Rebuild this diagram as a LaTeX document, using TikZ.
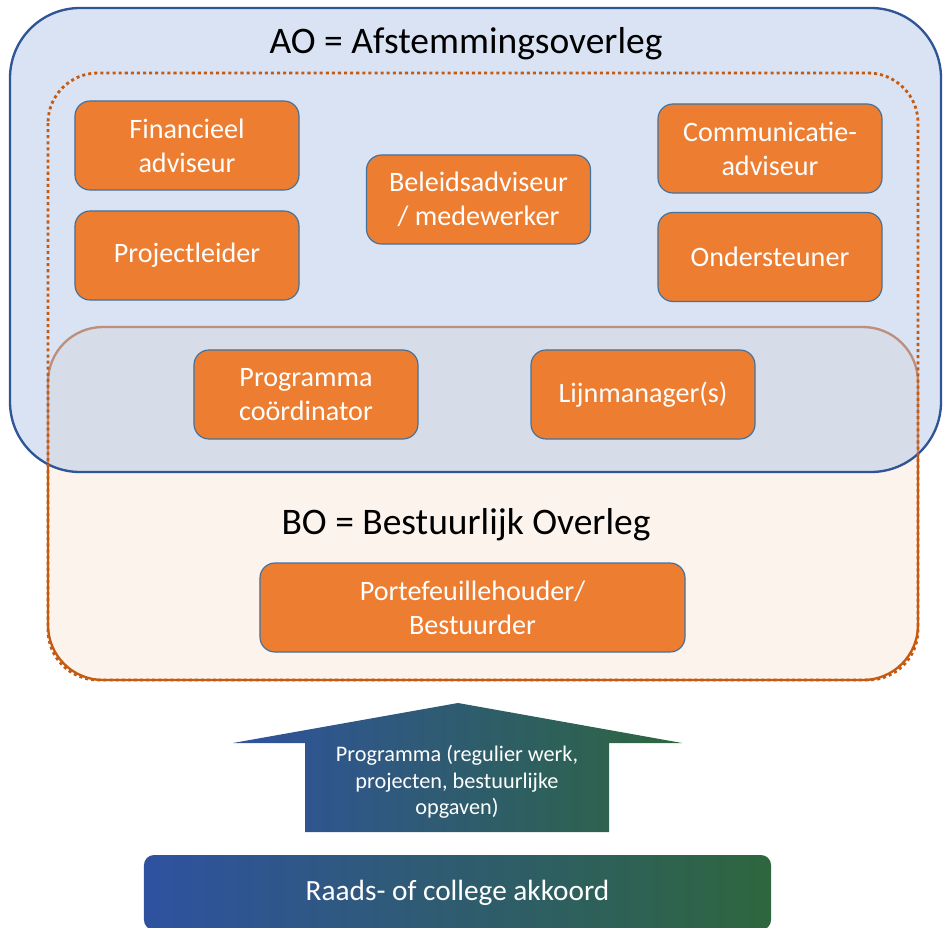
\documentclass[tikz,border=0pt]{standalone}
\usepackage{fontspec}
\setmainfont{Carlito}
\usepackage{tikz}
\definecolor{aoblue}{RGB}{47,85,151}
\definecolor{aofill}{RGB}{180,199,231}
\definecolor{boorange}{RGB}{197,90,17}
\definecolor{bofill}{RGB}{252,243,237}
\definecolor{boxorange}{RGB}{237,125,49}
\definecolor{boxblue}{RGB}{65,113,156}
\definecolor{gradblue}{RGB}{47,82,160}
\definecolor{gradgreen}{RGB}{46,102,62}

\begin{document}
\begin{tikzpicture}[x=0.03cm,y=-0.03cm]
  \tikzset{role box/.style = {draw=boxblue, line width=1pt, fill=boxorange, rounded corners=0.45cm,
      minimum width=6.72cm, minimum height=2.67cm, align=center, text=white,
      font=\fontsize{24}{29}\selectfont}}
  \tikzset{title text/.style = {font=\fontsize{32}{38}\selectfont}}
  \useasboundingbox (0,0) rectangle (944,928);
  \draw[draw=boorange, fill=bofill, line width=2pt, rounded corners=1.65cm] (48,327) rectangle (918,680);
  \draw[draw=aoblue, fill=aofill, fill opacity=0.5, line width=2pt, rounded corners=2.1cm] (10,8) rectangle (941,472);
  \draw[draw=boorange, line width=2.4pt, dash pattern=on 2.6pt off 2.6pt, rounded corners=1.5cm] (48,73) rectangle (918,680);

  \node[title text] (ao title) at (466,44) {AO = Afstemmingsoverleg};
  \node[role box] (fin) at (187,145.5) {Financieel\\adviseur};
  \node[role box] (proj) at (187,255.5) {Projectleider};
  \node[role box] (beleid) at (478.5,199.5) {Beleidsadviseur\\/ medewerker};
  \node[role box] (comm) at (770,148.5) {Communicatie-\\adviseur};
  \node[role box] (onder) at (770,257) {Ondersteuner};
  \node[role box] (progco) at (306,394.5) {Programma\\coördinator};
  \node[role box] (lijn) at (643,394.5) {Lijnmanager(s)};

  \node[title text] (bo title) at (466,525) {BO = Bestuurlijk Overleg};
  \node[role box, minimum width=12.75cm] (porte) at (472.5,607.5) {Portefeuillehouder/\\Bestuurder};

  \shade[left color=gradblue, right color=gradgreen] (305,832) -- (305,743) -- (233,743) -- (458,703)
      -- (682,743) -- (609,743) -- (609,832) -- cycle;
  \node[align=center, text=white, font=\fontsize{19}{22.6}\selectfont] (prog) at (457,782)
      {Programma (regulier werk,\\projecten, bestuurlijke\\opgaven)};
  \node[rounded corners=0.3cm, left color=gradblue, right color=gradgreen, minimum width=18.81cm,
      minimum height=2.25cm, text=white, font=\fontsize{25}{30}\selectfont] (akkoord) at (457.5,892.5)
      {Raads- of college akkoord};
\end{tikzpicture}
\end{document}
